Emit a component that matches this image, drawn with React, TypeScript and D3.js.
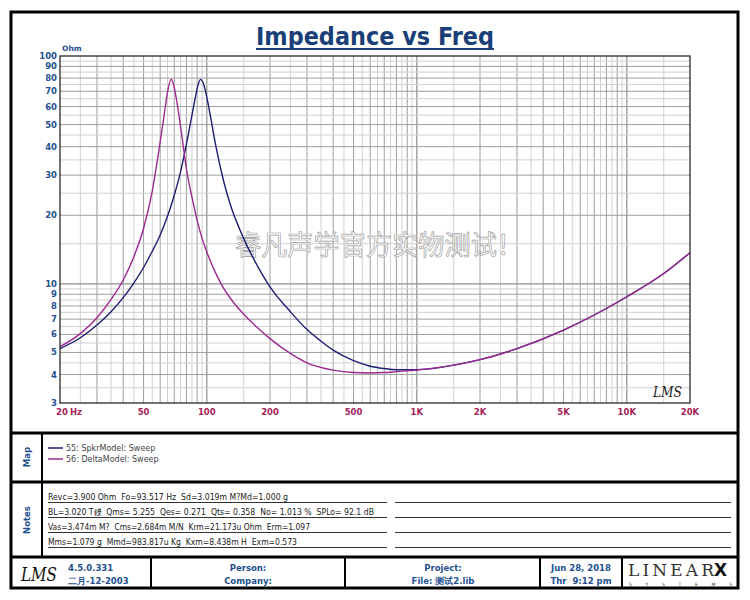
import React from "react";
import * as d3 from "d3";

// impedance readings (Hz / Ohm) taken off the sweep
const spkrFreq = [20, 25, 30, 35, 40, 45, 50, 55, 60, 65, 70, 75, 80, 85, 88, 91, 93.5, 96, 100, 105, 110, 120, 130, 150, 175, 200, 250, 300, 350, 400, 500, 600, 700, 800, 1000, 1500, 2000, 3000, 5000, 7000, 10000, 15000, 20000];
const spkrOhm = [5.2, 5.8, 6.6, 7.55, 8.7, 10.1, 11.8, 13.9, 16.4, 19.8, 24.5, 31, 41, 55, 65, 75, 79, 76.5, 66, 52, 41, 28.5, 22, 15.8, 11.9, 9.7, 7.55, 6.3, 5.6, 5.12, 4.6, 4.35, 4.25, 4.2, 4.2, 4.4, 4.65, 5.2, 6.27, 7.3, 8.78, 11.1, 13.7];

const deltaFreq = [20, 25, 30, 35, 40, 45, 50, 55, 60, 63, 65.5, 67.6, 69.5, 72, 76, 80, 85, 90, 95, 100, 110, 120, 130, 150, 175, 200, 250, 300, 400, 500, 600, 700, 800, 1000, 1500, 2000, 3000, 5000, 7000, 10000, 15000, 20000];
const deltaOhm = [5.3, 6.05, 7.1, 8.55, 10.4, 13.2, 17.5, 25.5, 42, 57, 72, 79, 75, 63, 45, 32, 24, 19, 15.8, 13.8, 11.2, 9.6, 8.6, 7.35, 6.4, 5.75, 4.95, 4.5, 4.18, 4.08, 4.06, 4.08, 4.12, 4.19, 4.4, 4.65, 5.2, 6.27, 7.3, 8.78, 11.1, 13.7];

const yTicks = [3, 4, 5, 6, 7, 8, 9, 10, 20, 30, 40, 50, 60, 70, 80, 90, 100];
const xTicks = [20, 50, 100, 200, 500, 1000, 2000, 5000, 10000, 20000];
const xTickLabels = ["20", "50", "100", "200", "500", "1K", "2K", "5K", "10K", "20K"];

const legendNames = ["55: SpkrModel: Sweep", "56: DeltaModel: Sweep"];
const seriesColors = ["#1e1e74", "#9c2a92"];

const notes = [
  "Revc=3.900 Ohm  Fo=93.517 Hz  Sd=3.019m M?Md=1.000 g",
  "BL=3.020 T鏝  Qms= 5.255  Qes= 0.271  Qts= 0.358  No= 1.013 %  SPLo= 92.1 dB",
  "Vas=3.474m M?  Cms=2.684m M/N  Krm=21.173u Ohm  Erm=1.097",
  "Mms=1.079 g  Mmd=983.817u Kg  Kxm=8.438m H  Exm=0.573",
];

const BLUE = "#24508f";
const RED = "#a3245a";
const FONT = "DejaVu Sans, Verdana, sans-serif";

export default function App() {
  const left = 60, right = 690, top = 56, bottom = 403;
  const x = d3.scaleLog().domain([20, 20000]).range([left, right]);
  const y = d3.scaleLog().domain([3, 100]).range([bottom, top]);

  // grid: every half step inside each decade
  const gridX: { v: number; major: boolean }[] = [];
  [10, 100, 1000, 10000].forEach((d) => {
    for (let k = 1; k <= 10; k += 0.5) {
      const v = d * k;
      if (v > 20 && v < 20000) gridX.push({ v, major: k % 1 === 0 });
    }
  });
  const gridY: { v: number; major: boolean }[] = [];
  [1, 10].forEach((d) => {
    for (let k = 1; k <= 10; k += 0.5) {
      const v = d * k;
      if (v > 3 && v < 100) gridY.push({ v, major: k % 1 === 0 });
    }
  });

  const line = d3
    .line<[number, number]>()
    .x((d) => x(d[0]))
    .y((d) => y(d[1]))
    .curve(d3.curveMonotoneX);

  const series = [
    spkrFreq.map((f, i) => [f, spkrOhm[i]] as [number, number]),
    deltaFreq.map((f, i) => [f, deltaOhm[i]] as [number, number]),
  ];

  const noteWidths = [240, 326, 262, 249];

  return (
    <svg
      width={750}
      height={600}
      style={{ position: "absolute", left: 0, top: 0, background: "#fff" }}
      fontFamily={FONT}
    >
      <rect x={0} y={0} width={750} height={600} fill="#fff" />

      {/* title */}
      <text x={375} y={45} textAnchor="middle" fontSize={25} fontWeight="bold" fill="#1a3f78"
        textLength={238} lengthAdjust="spacingAndGlyphs">
        Impedance vs Freq
      </text>
      <line x1={256} x2={494} y1={49} y2={49} stroke="#1a3f78" strokeWidth={2} />

      {/* grid */}
      <g>
        {gridX.map((g, i) => (
          <line key={"gx" + i} x1={x(g.v)} x2={x(g.v)} y1={top} y2={bottom}
            stroke={g.major ? "#9e9e9e" : "#d0d0d0"} strokeWidth={1} />
        ))}
        {gridY.map((g, i) => (
          <line key={"gy" + i} x1={left} x2={right} y1={y(g.v)} y2={y(g.v)}
            stroke={g.major ? "#9e9e9e" : "#d0d0d0"} strokeWidth={1} />
        ))}
      </g>

      {/* watermark */}
      <text x={235} y={255} fontSize={27} fontFamily="Noto Sans CJK SC" fill="#fff" stroke="#a0a0a0"
        strokeWidth={0.7} textLength={288} lengthAdjust="spacingAndGlyphs">
        睿凡声学官方实物测试！
      </text>

      {/* curves */}
      {series.map((s, i) => (
        <path key={"s" + i} d={line(s) || ""} fill="none" stroke={seriesColors[i]} strokeWidth={1.4} />
      ))}

      <rect x={left} y={top} width={right - left} height={bottom - top} fill="none" stroke="#2a2a2a" strokeWidth={1.3} />

      {/* y axis */}
      {yTicks.map((t) => (
        <text key={"yt" + t} x={57} y={y(t) + 3} textAnchor="end" fontSize={8.5} fontWeight="bold" fill={BLUE}>
          {t}
        </text>
      ))}
      <text x={62} y={51} fontSize={7.5} fontWeight="bold" fill={BLUE}>Ohm</text>

      {/* x axis */}
      {xTicks.map((t, i) => (
        <text key={"xt" + t} x={i === 0 ? 62 : x(t)} y={415} textAnchor="middle" fontSize={8.5} fontWeight="bold" fill={RED}>
          {xTickLabels[i]}
        </text>
      ))}
      <text x={70} y={415} fontSize={8.5} fontWeight="bold" fill={RED}>Hz</text>

      <text x={653} y={397} fontSize={15} fontStyle="italic" fontFamily="DejaVu Serif, serif" fill="#222"
        textLength={29} lengthAdjust="spacingAndGlyphs">LMS</text>

      {/* frame */}
      <rect x={11} y={12} width={727} height={576} fill="none" stroke="#000" strokeWidth={3} />
      <line x1={11} x2={738} y1={433} y2={433} stroke="#000" strokeWidth={3} />
      <line x1={11} x2={738} y1={482} y2={482} stroke="#000" strokeWidth={3} />
      <line x1={11} x2={738} y1={557} y2={557} stroke="#000" strokeWidth={3} />
      <line x1={42} x2={42} y1={433} y2={557} stroke="#000" strokeWidth={2} />
      {[151, 345, 540, 622].map((cx) => (
        <line key={"fc" + cx} x1={cx} x2={cx} y1={557} y2={588} stroke="#000" strokeWidth={2} />
      ))}

      {/* map */}
      <text transform="translate(30,457) rotate(-90)" textAnchor="middle" fontSize={8.5} fontWeight="bold" fill={BLUE}>Map</text>
      {legendNames.map((n, i) => (
        <g key={"lg" + i}>
          <line x1={48} x2={63} y1={448 + i * 11} y2={448 + i * 11} stroke={seriesColors[i]} strokeWidth={1.5} />
          <text x={66} y={451 + i * 11} fontSize={8} fill="#444">{n}</text>
        </g>
      ))}

      {/* notes */}
      <text transform="translate(30,520) rotate(-90)" textAnchor="middle" fontSize={8.5} fontWeight="bold" fill={BLUE}>Notes</text>
      {notes.map((n, i) => (
        <g key={"nt" + i}>
          <text x={48} y={500 + i * 15} fontSize={8} fill="#1a1a1a" style={{ whiteSpace: "pre" }}
            textLength={noteWidths[i]} lengthAdjust="spacingAndGlyphs">{n}</text>
          <line x1={48} x2={387} y1={502.5 + i * 15} y2={502.5 + i * 15} stroke="#333" strokeWidth={1} />
          <line x1={395} x2={731} y1={502.5 + i * 15} y2={502.5 + i * 15} stroke="#333" strokeWidth={1} />
        </g>
      ))}

      {/* footer */}
      <text x={21} y={581} fontSize={18} fontStyle="italic" fontFamily="DejaVu Serif, serif" fill="#111"
        textLength={36} lengthAdjust="spacingAndGlyphs">LMS</text>
      <text x={68} y={571} fontSize={8.5} fontWeight="bold" fill={BLUE}>4.5.0.331</text>
      <text x={68} y={584} fontSize={8.5} fontWeight="bold" fill={BLUE}>二月-12-2003</text>
      <text x={248} y={571} textAnchor="middle" fontSize={8.5} fontWeight="bold" fill={BLUE}>Person:</text>
      <text x={248} y={584} textAnchor="middle" fontSize={8.5} fontWeight="bold" fill={BLUE}>Company:</text>
      <text x={443} y={571} textAnchor="middle" fontSize={8.5} fontWeight="bold" fill={BLUE}>Project:</text>
      <text x={443} y={584} textAnchor="middle" fontSize={8.5} fontWeight="bold" fill={BLUE}>File: 测试2.lib</text>
      <text x={581} y={571} textAnchor="middle" fontSize={8.5} fontWeight="bold" fill={BLUE}>Jun 28, 2018</text>
      <text x={581} y={584} textAnchor="middle" fontSize={8.5} fontWeight="bold" fill={BLUE} style={{ whiteSpace: "pre" }}>Thr  9:12 pm</text>

      <text x={628} y={576} fontSize={17} fontFamily="DejaVu Serif, serif" fill="#333"
        textLength={86} lengthAdjust="spacing">LINEAR</text>
      <text x={714} y={576} fontSize={17} fontWeight="bold" fontFamily="DejaVu Sans, sans-serif" fill="#111">X</text>
      <text x={629} y={586} fontSize={4.5} fontFamily="DejaVu Sans, sans-serif" fill="#333"
        textLength={103} lengthAdjust="spacing">SYSTEMS</text>
    </svg>
  );
}
